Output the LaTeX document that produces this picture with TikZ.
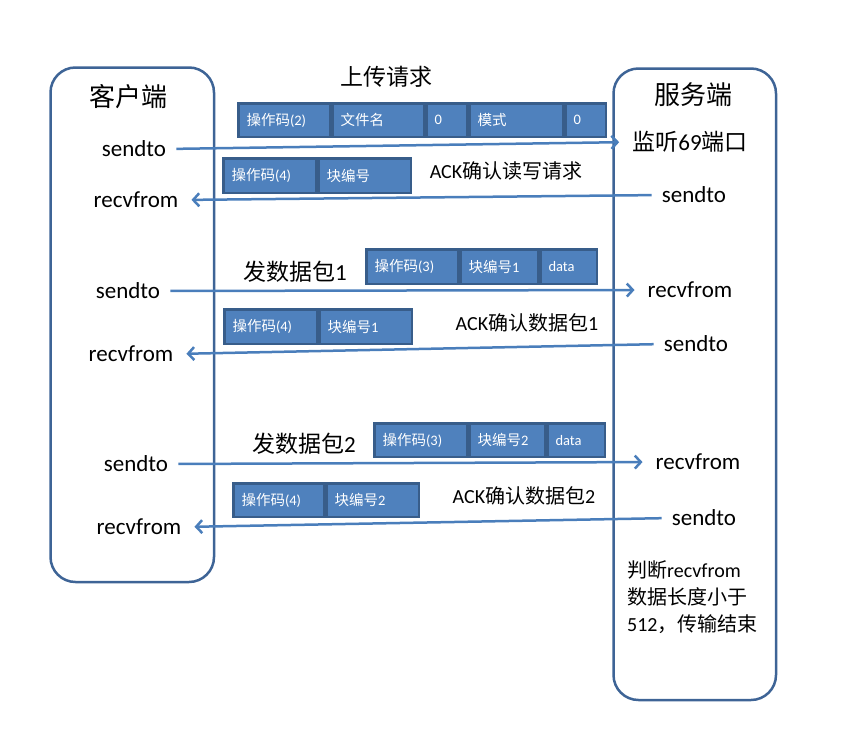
\documentclass[tikz,border=0pt]{standalone}
\usepackage{fontspec}
\setmainfont{Carlito}
\newfontfamily\cjk{Noto Sans CJK SC}
\usetikzlibrary{positioning, arrows.meta}
\tikzstyle{diagram} = [x = 1pt, y = -1pt]
\definecolor{cellFill}{RGB}{79,129,189}
\definecolor{cellBorder}{RGB}{56,93,138}
\definecolor{hostBorder}{RGB}{62,100,150}
\definecolor{arrowColor}{RGB}{74,126,187}
\tikzstyle{hostStyle} = [draw=hostBorder, line width=2.5pt, rounded corners=25pt, anchor=north west]
\tikzstyle{cellStyle} = [draw=cellBorder, fill=cellFill, line width=2.5pt, inner xsep=8pt, inner ysep=0pt, align=left, anchor=north west, text=white, font=\fontsize{14.5}{16}\selectfont]
\tikzstyle{hostTitle} = [inner sep=0pt, font=\cjk\fontsize{26}{30}\selectfont]
\tikzstyle{callText} = [inner sep=0pt, font=\fontsize{23}{26}\selectfont]
\tikzstyle{ackText} = [inner sep=0pt, font=\fontsize{20}{27}\selectfont]
\tikzstyle{msgArrow} = [draw=arrowColor, line width=2.5pt, -{Straight Barb[length=6pt, width=13pt]}, shorten <=10pt, shorten >=13pt]
\newcommand{\zh}[1]{{\cjk #1}}
% name, left, right, top, bottom, text
\newcommand{\packetCell}[6]{
  \pgfmathsetmacro{\cellWidth}{#3 - #2 - 18.5}
  \pgfmathsetmacro{\cellHeight}{#5 - #4 - 2.5}
  \node [cellStyle, text width = \cellWidth pt, minimum height = \cellHeight pt] (#1) at (#2 + 1.25, #4 + 1.25) {#6};
}
\newcommand{\hostBox}[5]{
  \pgfmathsetmacro{\boxWidth}{#3 - #2 - 2.5}
  \pgfmathsetmacro{\boxHeight}{#5 - #4 - 2.5}
  \node [hostStyle, minimum width = \boxWidth pt, minimum height = \boxHeight pt] (#1) at (#2 + 1.25, #4 + 1.25) {};
}
\begin{document}
\begin{tikzpicture}[diagram]
  \useasboundingbox (0,0) rectangle (856,731);
  \hostBox{client}{48}{214}{65}{582}
  \hostBox{server}{611}{776}{66}{700}
  \node [hostTitle] (clientTitle) at (128,97) {客户端};
  \node [hostTitle] (serverTitle) at (693,95) {服务端};

  % upload request
  \node [callText] (uploadTitle) at (386,77) {\zh{上传请求}};
  \packetCell{upOp}{236}{330}{101}{137}{\zh{操作码}(2)}
  \packetCell{upFile}{330}{424}{101}{137}{\zh{文件名}}
  \packetCell{upZeroA}{424}{467}{101}{137}{0}
  \packetCell{upMode}{467}{563}{101}{137}{\zh{模式}}
  \packetCell{upZeroB}{563}{606}{101}{137}{0}
  \node [callText] (clientSendA) at (134,149) {sendto};
  \node [callText] (serverListen) at (690,142) {\zh{监听}69\zh{端口}};
  \draw [msgArrow] (clientSendA.east) -- (serverListen.west);

  \packetCell{ackReqOp}{221}{316}{156}{193}{\zh{操作码}(4)}
  \packetCell{ackReqBlock}{316}{411}{156}{193}{\zh{块编号}}
  \node [ackText] (ackReqText) at (506,171) {ACK\zh{确认读写请求}};
  \node [callText] (serverSendA) at (694,195) {sendto};
  \node [callText] (clientRecvA) at (136,200) {recvfrom};
  \draw [msgArrow] (serverSendA.west) -- (clientRecvA.east);

  % data packet 1
  \node [callText] (dataOneTitle) at (295,272) {\zh{发数据包}1};
  \packetCell{dataOneOp}{364}{458}{247}{284}{\zh{操作码}(3)}
  \packetCell{dataOneBlock}{458}{538}{247}{284}{\zh{块编号}1}
  \packetCell{dataOneData}{538}{597}{247}{284}{data}
  \node [callText] (clientSendB) at (128,291) {sendto};
  \node [callText] (serverRecvB) at (690,290) {recvfrom};
  \draw [msgArrow] (clientSendB.east) -- (serverRecvB.west);

  \packetCell{ackOneOp}{222}{317}{307}{344}{\zh{操作码}(4)}
  \packetCell{ackOneBlock}{317}{412}{307}{344}{\zh{块编号}1}
  \node [ackText] (ackOneText) at (527,323) {ACK\zh{确认数据包}1};
  \node [callText] (serverSendB) at (696,344) {sendto};
  \node [callText] (clientRecvB) at (131,354) {recvfrom};
  \draw [msgArrow] (serverSendB.west) -- (clientRecvB.east);

  % data packet 2
  \node [callText] (dataTwoTitle) at (304,444) {\zh{发数据包}2};
  \packetCell{dataTwoOp}{372}{467}{421}{457}{\zh{操作码}(3)}
  \packetCell{dataTwoBlock}{467}{545}{421}{457}{\zh{块编号}2}
  \packetCell{dataTwoData}{545}{605}{421}{457}{data}
  \node [callText] (clientSendC) at (136,464) {sendto};
  \node [callText] (serverRecvC) at (698,462) {recvfrom};
  \draw [msgArrow] (clientSendC.east) -- (serverRecvC.west);

  \packetCell{ackTwoOp}{231}{324}{481}{517}{\zh{操作码}(4)}
  \packetCell{ackTwoBlock}{324}{419}{481}{517}{\zh{块编号}2}
  \node [ackText] (ackTwoText) at (524,496) {ACK\zh{确认数据包}2};
  \node [callText] (serverSendC) at (704,518) {sendto};
  \node [callText] (clientRecvC) at (139,527) {recvfrom};
  \draw [msgArrow] (serverSendC.west) -- (clientRecvC.east);

  \node [ackText, align=left, anchor=north west] (endNote) at (627,560) {\zh{判断}recvfrom\\\zh{数据长度小于}\\512\zh{，传输结束}};
\end{tikzpicture}
\end{document}
